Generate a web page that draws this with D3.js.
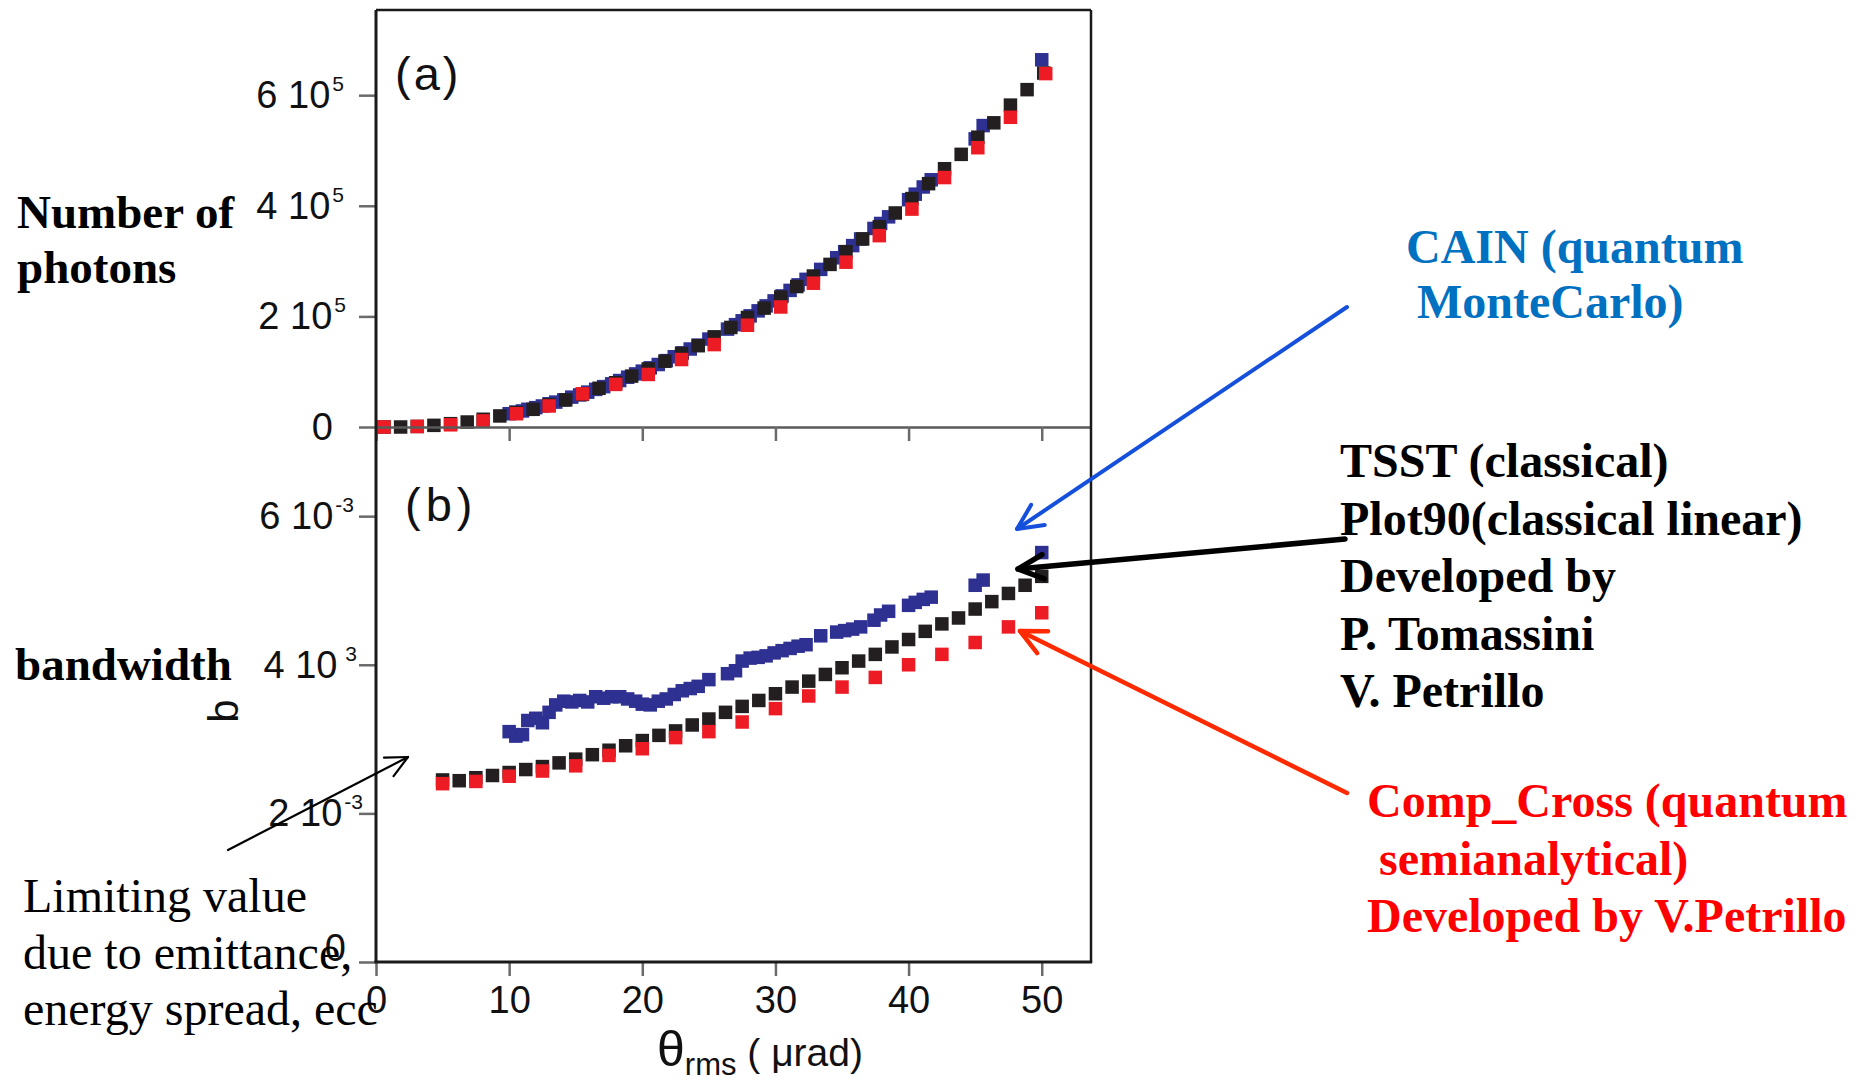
<!DOCTYPE html>
<html><head><meta charset="utf-8">
<script src="https://cdn.jsdelivr.net/npm/d3@7"></script>
<style>
html,body{margin:0;padding:0;background:#fff;}
svg{display:block;}
</style></head><body>
<svg id="chart" width="1867" height="1081"></svg>
<script>
// ---------------- DATA ----------------
// Panel (a): number of photons (units of 1e5) vs theta_rms (µrad)
const thetaBlackA = [0.6,1.85,3.1,4.35,5.6,6.85,8.05,9.3,10.55,11.8,13.0,14.25,15.5,16.75,18.0,19.2,20.45,21.7,22.95,24.2,25.4,26.65,27.9,29.15,30.4,31.6,32.85,34.1,35.3,36.55,37.8,39.0,40.25,41.5,42.7,43.95,45.2,46.4,47.65,48.9,50.15];
const photonsBlack = [0.00,0.00,0.01,0.03,0.06,0.09,0.14,0.20,0.26,0.32,0.40,0.49,0.59,0.70,0.80,0.92,1.05,1.19,1.33,1.47,1.63,1.80,1.98,2.15,2.35,2.54,2.73,2.94,3.17,3.40,3.62,3.87,4.13,4.40,4.67,4.93,5.24,5.50,5.82,6.10,6.40];
const thetaRedA = [0.6,3.1,5.6,8.05,10.55,13.0,15.5,18.0,20.45,22.95,25.4,27.9,30.4,32.85,35.3,37.8,40.25,42.7,45.2,47.65,50.3];
const photonsRed = [0.00,0.01,0.04,0.11,0.24,0.38,0.60,0.77,0.95,1.22,1.49,1.84,2.17,2.60,2.98,3.46,3.94,4.51,5.05,5.60,6.39];
const thetaBlue = [10.0,10.5,11.0,11.4,12.0,12.5,13.0,13.5,14.1,14.7,15.3,15.9,16.5,17.1,17.7,18.3,18.9,19.5,20.0,20.6,21.2,21.8,22.4,23.0,23.6,24.2,25.0,26.4,27.0,27.5,28.1,28.7,29.3,29.9,30.5,31.1,31.7,32.3,33.4,34.6,35.2,35.8,36.4,37.4,37.9,38.5,40.0,40.5,41.1,41.7,45.0,45.6,50.0];
const photonsBlue = [0.24,0.27,0.29,0.32,0.35,0.38,0.42,0.45,0.49,0.54,0.58,0.63,0.68,0.73,0.78,0.84,0.90,0.96,1.01,1.07,1.13,1.20,1.27,1.34,1.41,1.48,1.59,1.77,1.85,1.92,2.01,2.10,2.19,2.28,2.37,2.47,2.57,2.67,2.85,3.06,3.17,3.28,3.40,3.59,3.68,3.80,4.11,4.21,4.34,4.47,5.21,5.45,6.64];

// Panel (b): bandwidth (units of 1e-3) vs theta_rms (µrad)
const thetaBlackB = [5,6.25,7.5,8.75,10,11.25,12.5,13.75,15,16.25,17.5,18.75,20,21.25,22.5,23.75,25,26.25,27.5,28.75,30,31.25,32.5,33.75,35,36.25,37.5,38.75,40,41.25,42.5,43.75,45,46.25,47.5,48.75,50];
const bwBlack = [2.45,2.44,2.48,2.51,2.55,2.59,2.63,2.68,2.73,2.79,2.85,2.91,2.98,3.05,3.11,3.19,3.27,3.36,3.44,3.52,3.61,3.70,3.78,3.87,3.96,4.05,4.14,4.24,4.34,4.45,4.55,4.63,4.75,4.85,4.96,5.07,5.19];
const thetaRedB = [5,7.5,10,12.5,15,17.5,20,22.5,25,27.5,30,32.5,35,37.5,40,42.5,45,47.5,50];
const bwRed = [2.40,2.43,2.50,2.57,2.64,2.78,2.87,3.02,3.10,3.23,3.41,3.58,3.70,3.83,4.00,4.14,4.30,4.51,4.70];
const bwBlue = [3.10,3.04,3.06,3.25,3.28,3.22,3.36,3.46,3.51,3.50,3.52,3.50,3.57,3.55,3.57,3.57,3.54,3.51,3.47,3.46,3.51,3.54,3.60,3.65,3.68,3.71,3.80,3.88,3.92,4.05,4.09,4.10,4.12,4.16,4.19,4.22,4.25,4.27,4.39,4.44,4.46,4.48,4.51,4.60,4.67,4.72,4.80,4.84,4.88,4.91,5.07,5.14,5.51];

// Ticks
const xTicks = [0,10,20,30,40,50];
const yTicksA = [0,2,4,6];
const yLabelsA = ["0","2 10","4 10","6 10"];
const yExpA = ["","5","5","5"];
const yTicksB = [0,2,4,6];
const yLabelsB = ["0","2 10","4 10","6 10"];
const yExpB = ["","-3"," 3","-3"];

// Texts
const leftTitleA = ["Number of","photons"];
const leftTitleB = "bandwidth";
const noteLines = ["Limiting value","due to emittance,","energy spread, ecc"];
const cainLines = ["CAIN (quantum","MonteCarlo)"];
const tsstLines = ["TSST (classical)","Plot90(classical linear)","Developed by","P. Tomassini","V. Petrillo"];
const compLines = ["Comp_Cross (quantum"," semianalytical)","Developed by V.Petrillo"];

// ---------------- DRAW ----------------
const svg = d3.select("#chart");
const SANS = "'Liberation Sans', Arial, sans-serif";
const SERIF = "'Liberation Serif', 'Times New Roman', serif";
const C = {blue:"#2e3192", black:"#231f20", red:"#ed1c24"};

const x = d3.scaleLinear().domain([0,53.7]).range([376,1091]);
const yA = d3.scaleLinear().domain([0,7.54]).range([427,10]);
const yB = d3.scaleLinear().domain([0,7.2]).range([962,427]);
const L = x.range()[0], R = x.range()[1];

// marks
const M = 13.5;
function squares(g, xs, ys, yScale, color){
  g.selectAll(null).data(xs.map((t,i)=>[t,ys[i]])).enter().append("rect")
    .attr("x", d=>x(d[0])-M/2).attr("y", d=>yScale(d[1])-M/2)
    .attr("width", M).attr("height", M).attr("fill", color);
}
const marks = svg.append("g");
squares(marks, thetaBlue, photonsBlue, yA, C.blue);
squares(marks, thetaBlackA, photonsBlack, yA, C.black);
squares(marks, thetaRedA, photonsRed, yA, C.red);
squares(marks, thetaBlue, bwBlue, yB, C.blue);
squares(marks, thetaBlackB, bwBlack, yB, C.black);
squares(marks, thetaRedB, bwRed, yB, C.red);

// y axes (tick lines)
function yAxis(scale, ticks){
  const g = svg.append("g").attr("transform",`translate(${L},0)`)
    .call(d3.axisLeft(scale).tickValues(ticks).tickSize(17).tickFormat(""));
  g.select(".domain").remove();
  g.selectAll(".tick line").attr("stroke","#6a6a6a").attr("stroke-width",2.5);
}
yAxis(yA, yTicksA);
yAxis(yB, yTicksB);

// x axes
const xa = svg.append("g").attr("transform",`translate(0,${yA(0)})`)
  .call(d3.axisBottom(x).tickValues(xTicks).tickSize(14).tickSizeOuter(0).tickFormat(""));
xa.select(".domain").attr("stroke","#5a5a5a").attr("stroke-width",2.5);
xa.selectAll(".tick line").attr("stroke","#6a6a6a").attr("stroke-width",2.5);

const xb = svg.append("g").attr("transform",`translate(0,${yB(0)})`)
  .call(d3.axisBottom(x).tickValues(xTicks).tickSize(14).tickSizeOuter(0).tickPadding(10).tickFormat(d3.format("d")));
xb.select(".domain").remove();
xb.selectAll(".tick line").attr("stroke","#6a6a6a").attr("stroke-width",2.5);
xb.selectAll(".tick text").attr("font-family",SANS).attr("font-size",38).attr("fill","#111");

// frame
const frame = svg.append("g").attr("fill","none").attr("stroke","#1a1a1a");
frame.append("line").attr("x1",L).attr("x2",L).attr("y1",yA.range()[1]).attr("y2",yB(0)).attr("stroke-width",3);
frame.append("line").attr("x1",R).attr("x2",R).attr("y1",yA.range()[1]).attr("y2",yB(0)).attr("stroke-width",2.5);
frame.append("line").attr("x1",L).attr("x2",R).attr("y1",yA.range()[1]).attr("y2",yA.range()[1]).attr("stroke-width",2.5);
frame.append("line").attr("x1",L-1.5).attr("x2",R+1.2).attr("y1",yB(0)).attr("y2",yB(0)).attr("stroke-width",3);

// y tick labels
function yLabels(scale, ticks, labels, exps, xEnds, zeroDy){
  ticks.forEach((t,i)=>{
    const isZero = labels[i]==="0";
    const tx = svg.append("text")
      .attr("x", xEnds[i])
      .attr("y", scale(t) + (isZero ? zeroDy : 13))
      .attr("text-anchor","end").attr("font-family",SANS).attr("font-size",38).attr("fill","#111")
      .attr("xml:space","preserve").style("white-space","pre")
      .text(labels[i]);
    if(exps[i]) tx.append("tspan").attr("font-size",21).attr("dy",-17).attr("dx",2).text(exps[i]);
  });
}
yLabels(yA, yTicksA, yLabelsA, yExpA, [333,346,344,344], 13);
yLabels(yB, yTicksB, yLabelsB, yExpB, [346,363,357,354], -1);

// panel tags
svg.append("text").attr("x",395).attr("y",90).attr("font-family",SANS).attr("font-size",47)
  .attr("letter-spacing",3).attr("fill","#111").text("(a)");
svg.append("text").attr("x",405).attr("y",521).attr("font-family",SANS).attr("font-size",47)
  .attr("letter-spacing",5).attr("fill","#111").text("(b)");

// x title
const xt = svg.append("text").attr("x",657).attr("y",1066).attr("font-family",SANS).attr("fill","#111");
xt.append("tspan").attr("font-size",50).text("θ");
xt.append("tspan").attr("font-size",31).attr("dy",9).text("rms");
xt.append("tspan").attr("font-size",39).attr("dy",-9).text(" ( μrad)");

// rotated y title of panel b
svg.append("text").attr("transform","translate(238,711) rotate(-90)")
  .attr("text-anchor","middle").attr("font-family",SANS).attr("font-size",42).attr("fill","#111").text("b");

// left titles
leftTitleA.forEach((s,i)=>svg.append("text").attr("x",17).attr("y",228+55*i)
  .attr("font-family",SERIF).attr("font-weight","bold").attr("font-size",47).attr("fill","#000").text(s));
svg.append("text").attr("x",15).attr("y",680).attr("font-family",SERIF).attr("font-weight","bold")
  .attr("font-size",47).attr("fill","#000").text(leftTitleB);

// note bottom-left
noteLines.forEach((s,i)=>svg.append("text").attr("x",23).attr("y",912+56.5*i)
  .attr("font-family",SERIF).attr("font-size",48).attr("fill","#000").text(s));

// right annotations
function block(lines, x0, y0, dy, color, size, xs){
  lines.forEach((s,i)=>svg.append("text").attr("x", xs ? xs[i] : x0).attr("y", y0+dy*i)
    .attr("font-family",SERIF).attr("font-weight","bold").attr("font-size",size)
    .attr("fill",color).attr("xml:space","preserve").style("white-space","pre").text(s));
}
block(cainLines, 0, 263, 55, "#0070c0", 48, [1406,1417]);
block(tsstLines, 1340, 477, 57.5, "#000", 48);
block(compLines, 1367, 817, 57.5, "#ff0000", 48);

// arrows
function arrow(x1,y1,x2,y2,color,w,head){
  const a = Math.atan2(y2-y1,x2-x1), sp = Math.PI/7;
  const g = svg.append("g").attr("stroke",color).attr("stroke-width",w).attr("fill","none")
    .attr("stroke-linecap","round").attr("stroke-linejoin","round");
  g.append("line").attr("x1",x1).attr("y1",y1).attr("x2",x2).attr("y2",y2);
  g.append("path").attr("d",
    `M${x2-head*Math.cos(a-sp)},${y2-head*Math.sin(a-sp)} L${x2},${y2} L${x2-head*Math.cos(a+sp)},${y2-head*Math.sin(a+sp)}`);
}
arrow(1347,307,1017,529,"#1450dc",4,28);
arrow(1345,539,1018,569,"#000",5.5,28);
arrow(1347,793,1020,631,"#ff2a00",4.5,28);
arrow(228,850,408,757,"#000",2.2,24);
</script>
</body></html>
